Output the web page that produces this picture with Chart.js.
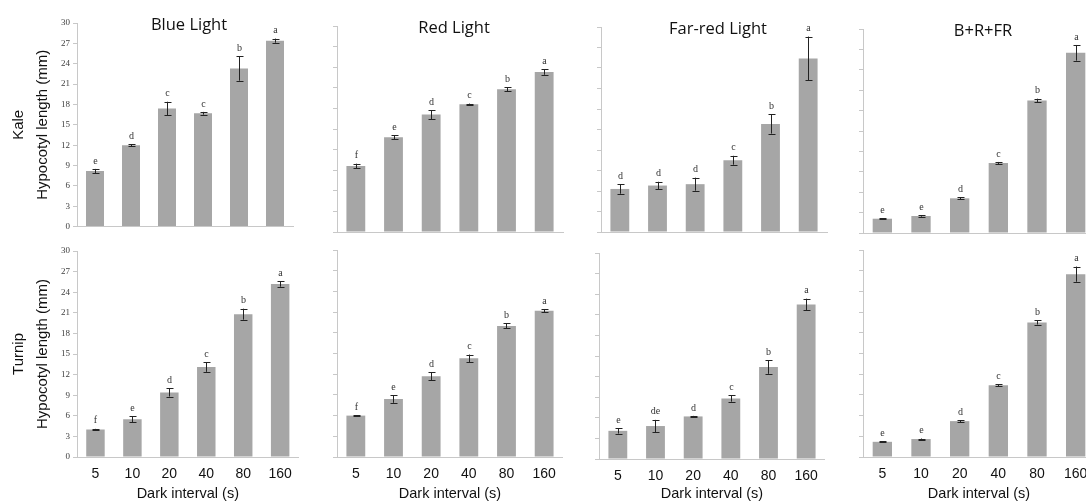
<!DOCTYPE html>
<html>
<head>
<meta charset="utf-8">
<script src="https://cdn.jsdelivr.net/npm/chart.js@4"></script>
<style>
    html, body { margin: 0; padding: 0; background: #fff; }
    body { width: 1086px; height: 504px; overflow: hidden; position: relative; }
    canvas { position: absolute; }
</style>
</head>
<body>
<script>
const intervals = ['5', '10', '20', '40', '80', '160'];
const yTicks = [0, 3, 6, 9, 12, 15, 18, 21, 24, 27, 30];

const lightTitles = ['Blue Light', 'Red Light', 'Far-red Light', 'B+R+FR'];
const cropNames = ['Kale', 'Turnip'];

// Kale (mm), mean and error
const kaleBlue = [8.2, 12.0, 17.4, 16.7, 23.3, 27.4];
const kaleBlueErr = [0.3, 0.15, 1.0, 0.2, 1.8, 0.3];
const kaleBlueSig = ['e', 'd', 'c', 'c', 'b', 'a'];

const kaleRed = [9.6, 13.8, 17.1, 18.6, 20.8, 23.3];
const kaleRedErr = [0.35, 0.3, 0.65, 0.1, 0.3, 0.4];
const kaleRedSig = ['f', 'e', 'd', 'c', 'b', 'a'];

const kaleFarRed = [6.3, 6.8, 7.0, 10.5, 15.8, 25.4];
const kaleFarRedErr = [0.7, 0.55, 0.95, 0.65, 1.4, 3.2];
const kaleFarRedSig = ['d', 'd', 'd', 'c', 'b', 'a'];

const kaleMix = [2.1, 2.5, 5.1, 10.3, 19.5, 26.5];
const kaleMixErr = [0.1, 0.1, 0.15, 0.15, 0.25, 1.15];
const kaleMixSig = ['e', 'e', 'd', 'c', 'b', 'a'];

// Turnip (mm)
const turnipBlue = [4.0, 5.5, 9.4, 13.1, 20.8, 25.2];
const turnipBlueErr = [0.1, 0.4, 0.6, 0.7, 0.8, 0.4];
const turnipBlueSig = ['f', 'e', 'd', 'c', 'b', 'a'];

const turnipRed = [6.0, 8.4, 11.7, 14.3, 19.0, 21.2];
const turnipRedErr = [0.05, 0.55, 0.6, 0.55, 0.35, 0.25];
const turnipRedSig = ['f', 'e', 'd', 'c', 'b', 'a'];

const turnipFarRed = [4.1, 4.8, 6.2, 8.8, 13.4, 22.5];
const turnipFarRedErr = [0.4, 0.9, 0.08, 0.45, 1.0, 0.85];
const turnipFarRedSig = ['e', 'de', 'd', 'c', 'b', 'a'];

const turnipMix = [2.2, 2.6, 5.2, 10.4, 19.5, 26.5];
const turnipMixErr = [0.08, 0.08, 0.15, 0.15, 0.3, 1.1];
const turnipMixSig = ['e', 'e', 'd', 'c', 'b', 'a'];

const panelData = [
    [[kaleBlue, kaleBlueErr, kaleBlueSig], [kaleRed, kaleRedErr, kaleRedSig],
     [kaleFarRed, kaleFarRedErr, kaleFarRedSig], [kaleMix, kaleMixErr, kaleMixSig]],
    [[turnipBlue, turnipBlueErr, turnipBlueSig], [turnipRed, turnipRedErr, turnipRedSig],
     [turnipFarRed, turnipFarRedErr, turnipFarRedSig], [turnipMix, turnipMixErr, turnipMixSig]]
];

// plot boxes in page pixels: axis x, right end, top (30), bottom (0)
const boxes = [
    [[77, 293, 23, 231], [337, 563, 26, 232], [601, 827, 27, 232], [863, 1095, 29, 233]],
    [[77, 299, 251, 457], [337, 563, 250, 457], [599, 825, 253, 459], [863, 1095, 250, 457]]
];

const AXIS = '#c8c8c8';
const BAR = '#a6a6a6';

// error bars, letters and panel titles
const extras = {
    id: 'extras',
    afterDatasetsDraw(chart, args, opts) {
        const { ctx, chartArea, scales: { x, y } } = chart;
        ctx.save();
        ctx.strokeStyle = '#222';
        ctx.lineWidth = 1;
        ctx.fillStyle = '#333';
        ctx.font = '10px "Liberation Serif"';
        ctx.textAlign = 'center';
        ctx.textBaseline = 'bottom';
        opts.values.forEach((v, i) => {
            const cx = Math.round(x.getPixelForValue(i)) + 0.5;
            const hi = y.getPixelForValue(v + opts.errors[i]);
            const lo = y.getPixelForValue(v - opts.errors[i]);
            ctx.beginPath();
            ctx.moveTo(cx, hi); ctx.lineTo(cx, lo);
            ctx.moveTo(cx - 3, Math.round(hi) + 0.5); ctx.lineTo(cx + 4, Math.round(hi) + 0.5);
            ctx.moveTo(cx - 3, Math.round(lo) + 0.5); ctx.lineTo(cx + 4, Math.round(lo) + 0.5);
            ctx.stroke();
            ctx.fillText(opts.letters[i], cx, hi - 3);
        });
        if (opts.title) {
            ctx.fillStyle = '#111';
            ctx.font = '16.5px "Open Sans"';
            ctx.textBaseline = 'middle';
            ctx.fillText(opts.title, (chartArea.left + chartArea.right) / 2 + 4, chartArea.top + 2);
        }
        ctx.restore();
    }
};

for (let r = 0; r < 2; r++) {
    for (let c = 0; c < 4; c++) {
        const [x0, x1, y0, y1] = boxes[r][c];
        const [vals, errs, sig] = panelData[r][c];
        const left = c === 0 ? 0 : x0 - 24;
        const top = y0 - 20;
        const bottom = r === 1 ? 504 : y1 + 4;
        const yW = x0 - left;
        const xH = bottom - y1;

        const cv = document.createElement('canvas');
        cv.width = x1 + 2 - left;
        cv.height = bottom - top;
        cv.style.left = left + 'px';
        cv.style.top = top + 'px';
        document.body.appendChild(cv);

        new Chart(cv.getContext('2d'), {
            type: 'bar',
            data: {
                labels: intervals,
                datasets: [{ data: vals, backgroundColor: BAR, borderWidth: 0, barPercentage: 0.5, categoryPercentage: 1 }]
            },
            options: {
                responsive: false, animation: false, events: [],
                layout: { padding: { top: 20, right: 2, left: 0, bottom: 0 } },
                plugins: {
                    legend: { display: false }, tooltip: { enabled: false },
                    extras: { values: vals, errors: errs, letters: sig, title: r === 0 ? lightTitles[c] : null }
                },
                scales: {
                    x: {
                        grid: { display: false, drawTicks: false },
                        border: { color: AXIS, width: 1 },
                        ticks: { display: r === 1, color: '#111', padding: 9, font: { family: 'Liberation Sans', size: 14 } },
                        title: { display: r === 1, text: 'Dark interval (s)', color: '#111', padding: { top: 0, bottom: 1 },
                                 font: { family: 'Liberation Sans', size: 14.5 } },
                        afterFit: (s) => { s.height = xH; }
                    },
                    y: {
                        min: 0, max: 30,
                        afterBuildTicks: (s) => { s.ticks = yTicks.map(v => ({ value: v })); },
                        grid: { drawOnChartArea: false, drawTicks: true, tickLength: 4, color: AXIS },
                        border: { color: AXIS, width: 1 },
                        ticks: { display: c === 0, color: '#404040', padding: 3, font: { family: 'Liberation Serif', size: 9 } },
                        title: { display: c === 0, text: [cropNames[r], 'Hypocotyl length (mm)'], color: '#111',
                                 padding: { top: 6, bottom: 0 }, font: { family: 'Liberation Sans', size: 15, lineHeight: 1.65 } },
                        afterFit: (s) => { s.width = yW; }
                    }
                }
            },
            plugins: [extras]
        });
    }
}
</script>
</body>
</html>
